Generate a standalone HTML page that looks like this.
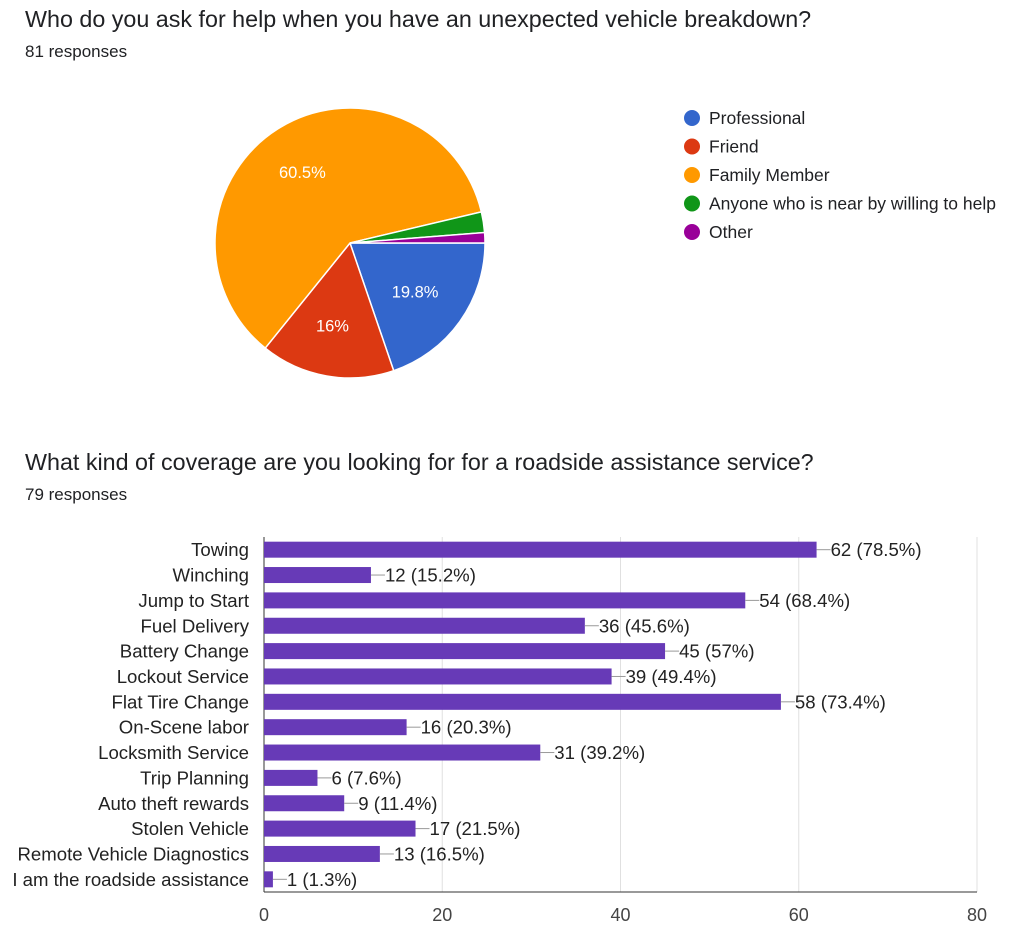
<!DOCTYPE html>
<html><head><meta charset="utf-8">
<style>
body{margin:0;background:#fff;font-family:"Liberation Sans",Arial,sans-serif;}
svg{display:block}
</style></head>
<body>
<svg id="root" width="1036" height="941" xmlns="http://www.w3.org/2000/svg">
<text x="25" y="27" font-size="23.3" fill="#202124">Who do you ask for help when you have an unexpected vehicle breakdown?</text>
<text x="25" y="57" font-size="17" fill="#202124">81 responses</text>
<g id="pie"></g>
<g id="legend"></g>
<text x="25" y="470" font-size="23.3" fill="#202124">What kind of coverage are you looking for for a roadside assistance service?</text>
<text x="25" y="500" font-size="17" fill="#202124">79 responses</text>
<g id="bars"></g>
</svg>
<script>
const pieLabels=["Professional","Friend","Family Member","Anyone who is near by willing to help","Other"];
const pieValues=[16,13,49,2,1];
const pieColors=["#3366cc","#dc3912","#ff9900","#109618","#990099"];
const barCategories=["Towing","Winching","Jump to Start","Fuel Delivery","Battery Change","Lockout Service","Flat Tire Change","On-Scene labor","Locksmith Service","Trip Planning","Auto theft rewards","Stolen Vehicle","Remote Vehicle Diagnostics","I am the roadside assistance"];
const barValues=[62,12,54,36,45,39,58,16,31,6,9,17,13,1];
const barLabels=["62 (78.5%)","12 (15.2%)","54 (68.4%)","36 (45.6%)","45 (57%)","39 (49.4%)","58 (73.4%)","16 (20.3%)","31 (39.2%)","6 (7.6%)","9 (11.4%)","17 (21.5%)","13 (16.5%)","1 (1.3%)"];
const xTicks=[0,20,40,60,80];
const NS="http://www.w3.org/2000/svg";
function mk(t,a,p){const e=document.createElementNS(NS,t);for(const k in a)e.setAttribute(k,a[k]);p.appendChild(e);return e;}
(function(){
const pie=document.getElementById('pie');
const cx=350,cy=243,r=135;
const total=pieValues.reduce((a,b)=>a+b,0);
let ang=0;
pieValues.forEach((v,i)=>{
  const a0=ang,a1=ang+v/total*2*Math.PI;ang=a1;
  const px0=cx+r*Math.cos(a0),py0=cy+r*Math.sin(a0),px1=cx+r*Math.cos(a1),py1=cy+r*Math.sin(a1);
  const p=mk('path',{d:`M${cx},${cy}L${px0},${py0}A${r},${r} 0 ${a1-a0>Math.PI?1:0} 1 ${px1},${py1}Z`,fill:pieColors[i],stroke:'#fff','stroke-width':1.5},pie);
  
  
  const pct=v/total*100;
  if(pct>5){
    const m=(a0+a1)/2,lr=r*0.62;
    const t=mk('text',{x:cx+lr*Math.cos(m)-3,y:cy+lr*Math.sin(m)+6,'text-anchor':'middle','font-size':16.5,fill:'#fff'},pie);
    t.textContent=(Math.round(pct*10)/10)+'%';
    
    
  }
});
const lg=document.getElementById('legend');
pieLabels.forEach((l,i)=>{
  const y=118+i*28.5;
  const c=mk('circle',{cx:692,cy:y,r:8,fill:pieColors[i]},lg);
  
  
  const t=mk('text',{x:709,y:y+6,'font-size':17.5,fill:'#202124'},lg);
  t.textContent=l;
  
  
});
const bg=document.getElementById('bars');
const ax0=264,ax1=977,pTop=537,pBottom=892;
const xs=v=>ax0+(v-0)/(80-0)*(ax1-ax0);
const rowH=(pBottom-pTop)/barCategories.length;
xTicks.forEach(t=>{
  if(t>0){const g=mk('line',{x1:xs(t),x2:xs(t),y1:pTop,y2:pBottom,stroke:'#e0e0e0'},bg);
  
  }
  const tx=mk('text',{x:xs(t),y:921,'text-anchor':'middle','font-size':18,fill:'#444'},bg);
  tx.textContent=t;
  
  
});
const ax=mk('line',{x1:ax0,x2:ax1,y1:pBottom,y2:pBottom,stroke:'#333'},bg);


const ay=mk('line',{x1:ax0,x2:ax0,y1:pTop,y2:pBottom,stroke:'#333'},bg);


barCategories.forEach((c,i)=>{
  const yc=pTop+rowH*(i+0.5);
  const cl=mk('text',{x:249,y:yc+6.5,'text-anchor':'end','font-size':18.6,fill:'#222'},bg);
  cl.textContent=c;
  
  
  const b=mk('rect',{x:ax0,y:yc-8,width:xs(barValues[i])-ax0,height:16,fill:'#673ab7'},bg);
  
  
  const ln=mk('line',{x1:xs(barValues[i]),x2:xs(barValues[i])+14,y1:yc,y2:yc,stroke:'#999'},bg);
  
  
  const vl=mk('text',{x:xs(barValues[i])+14,y:yc+6.5,'font-size':18.6,fill:'#222'},bg);
  vl.textContent=barLabels[i];
  
  
});
})();
</script>
</body></html>
